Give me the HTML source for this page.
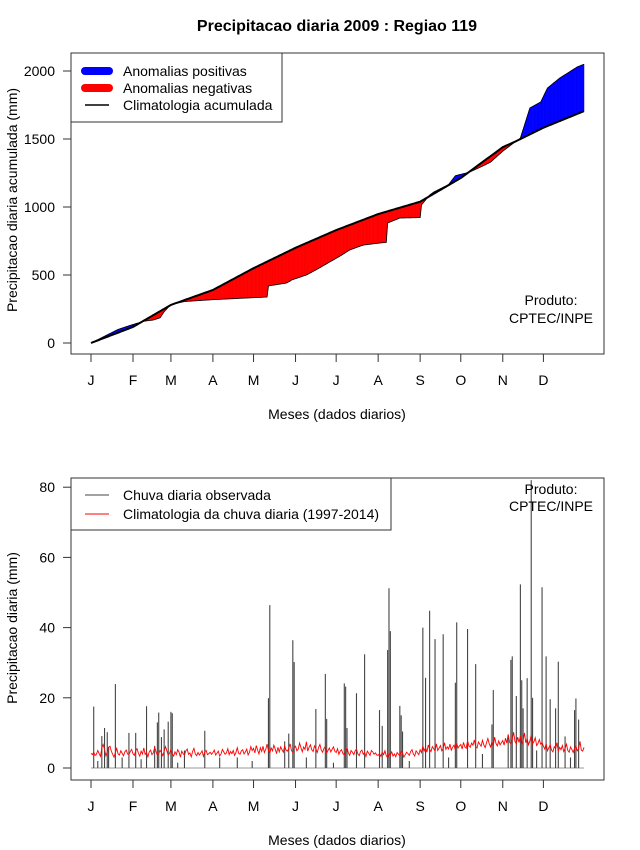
<!DOCTYPE html>
<html><head><meta charset="utf-8"><style>
body{margin:0;background:#fff}
svg{display:block;font-family:"Liberation Sans",sans-serif}
</style></head><body>
<svg id="chart" width="640" height="850" xmlns="http://www.w3.org/2000/svg">
<text x="337" y="31" text-anchor="middle" font-size="16" font-weight="bold">Precipitacao diaria 2009 : Regiao 119</text>
<g id="top"></g>
<g id="bot"></g>
</svg>
<script>
const monthLabels=["J","F","M","A","M","J","J","A","S","O","N","D"];
const monthStartDays=[1,32,60,91,121,152,182,213,244,274,305,335];
const topTicks=[0,500,1000,1500,2000];
const botTicks=[0,20,40,60,80];
// accumulated observed (knots: day, mm)
const obsDays=[1,10,21,30,40,47,52,55,58,61,70,90,110,131,132,145,148,149,160,167,178,185,192,202,214,219,220,229,244,245,251,254,265,270,280,290,296,305,314,318,325,333,338,347,360,365];
const obsCum=[0,45,100,130,160,169,185,230,262,285,305,318,328,338,420,440,455,463,500,537,600,640,684,720,735,740,882,919,922,1015,1088,1110,1165,1230,1255,1300,1330,1410,1478,1507,1728,1772,1875,1948,2030,2050];
// accumulated climatology (knots)
const climDays=[1,32,60,91,121,152,182,213,244,274,305,314,335,365];
const climCum=[0,118,280,390,550,700,830,948,1039,1213,1440,1480,1583,1705];
// daily observed rain (non-zero days)
const rainDays=[3,9,11,13,14,19,29,34,42,48,50,51,53,55,58,60,61,70,85,96,109,132,133,144,147,150,151,167,174,175,188,189,190,197,203,214,216,220,221,222,229,230,231,246,248,251,255,261,270,271,279,285,297,298,309,311,312,315,318,319,320,323,326,327,334,337,340,344,346,351,358,359,361,6,24,38,65,120,160,180,236,265,290,330,355];
const rainValues=[17.5,9.1,11.4,10.2,6,23.9,10,10,17.6,6.3,13,15.8,8.8,11,13.2,16,15.6,5,10.6,3,3,19.9,46.4,7.6,9.8,36.4,30.2,16.8,26.8,14,24.1,23.2,11.4,21.3,32.4,16.5,12,33.6,51.2,39,17.7,15,10.4,40,25.7,44.8,36.7,38.1,24.3,41.5,39.6,29.6,12.4,22.2,9,30.8,31.8,20.5,52.3,25,17,25.6,82,20,51.5,31.8,19.6,17,30.3,9,16.5,19.8,13.8,2,3,2.5,1.5,2,3,1.5,2,3,4,5,3];
// daily climatology 1997-2014
const climDaily=[4.2,3.8,4.5,3.6,3.9,5.0,4.1,3.3,5.8,6.7,5.2,3.5,4.6,5.9,6.2,4.8,3.9,3.1,4.4,5.6,4.0,3.7,4.9,4.2,3.5,4.6,5.1,4.0,3.8,4.7,5.3,
4.1,3.6,4.9,5.5,4.2,3.4,4.8,4.0,5.7,3.9,4.4,3.2,4.6,5.1,3.8,4.3,5.9,4.7,3.6,4.1,5.0,4.4,3.5,4.8,6.1,4.9,3.7,4.2,
5.3,4.0,3.4,4.6,3.8,5.2,4.5,3.1,4.8,4.1,3.6,4.9,5.4,3.9,4.3,3.2,4.7,5.6,4.0,3.5,4.4,3.7,4.2,4.9,3.3,4.6,5.0,3.8,4.1,4.5,3.9,
4.4,5.1,3.7,4.2,4.8,3.4,4.0,5.3,4.6,3.9,4.3,5.5,3.8,4.7,4.1,5.0,3.6,4.4,5.8,4.2,3.9,4.9,5.2,4.0,4.6,5.4,3.7,4.5,6.1,5.0,
5.6,4.3,6.4,5.1,4.0,5.8,4.7,6.2,4.4,5.3,6.8,5.0,4.2,5.7,4.9,6.5,5.4,4.1,5.9,4.6,6.0,5.2,4.5,6.3,5.1,4.8,5.6,6.9,5.0,4.4,5.7,
6.2,4.9,5.4,7.1,5.8,4.6,6.0,5.3,7.5,4.8,5.9,6.6,5.2,4.7,6.3,5.5,4.4,5.8,6.7,5.1,4.5,5.6,6.1,4.3,5.0,5.7,4.6,5.3,6.0,4.8,
4.4,5.5,3.9,4.8,5.2,4.1,3.7,4.6,5.8,4.3,3.6,5.0,4.5,3.8,4.9,5.4,4.0,3.5,4.7,5.1,3.9,4.4,3.3,4.8,4.2,3.6,5.0,4.6,3.9,4.3,3.7,
3.6,4.1,3.3,4.5,3.8,4.9,3.5,2.9,4.2,3.7,4.6,3.4,4.0,3.2,4.4,3.9,3.5,4.8,4.3,3.1,3.8,4.5,4.1,3.6,4.7,5.2,4.0,3.4,4.9,4.3,3.8,
5.2,4.4,6.3,4.9,5.8,4.5,6.6,5.3,4.7,6.1,5.5,4.8,6.9,5.0,5.7,6.4,4.9,5.6,7.2,5.3,6.0,5.4,6.8,5.1,5.9,6.5,5.2,7.0,5.7,6.3,
6.7,5.4,7.3,6.0,5.6,7.8,6.3,5.9,7.1,6.5,8.0,6.1,5.7,7.4,6.8,6.2,7.9,6.6,5.8,7.2,8.4,6.9,6.0,7.5,6.4,8.8,7.0,6.3,7.7,6.6,7.2,
7.8,6.5,8.5,7.1,9.6,7.4,6.8,8.2,10.2,7.6,6.9,8.8,7.3,9.1,6.7,7.9,10.0,7.2,8.4,6.6,7.7,9.3,6.9,7.5,8.6,6.4,7.0,8.1,6.8,7.3,
6.2,5.4,7.0,4.9,5.8,6.6,5.1,4.6,6.1,5.5,7.2,4.8,5.9,5.2,6.4,4.7,5.6,6.8,5.0,4.5,6.0,5.3,4.4,5.7,6.3,4.9,5.5,7.6,5.1,4.8,5.9];

const NS="http://www.w3.org/2000/svg";
function mk(parent,tag,attrs,text){const e=document.createElementNS(NS,tag);for(const k in attrs)e.setAttribute(k,attrs[k]);if(text!==undefined)e.textContent=text;parent.appendChild(e);return e;}
const xDay=d=>91+(d-1)*1.3545;
const yTop=v=>343-v*0.136;
const yBot=v=>768-v*3.51;
function interp(ds,vs,d){for(let i=0;i<ds.length-1;i++){if(d>=ds[i]&&d<=ds[i+1]){return vs[i]+(vs[i+1]-vs[i])*(d-ds[i])/(ds[i+1]-ds[i]);}}return vs[vs.length-1];}

function axes(g,top,bottom,ticks,yf,ylabel,yLabelY){
  const box=mk(g,'rect',{x:71,y:top,width:533,height:bottom-top,fill:'none',stroke:'#333','stroke-width':1});
  
  
  ticks.forEach(t=>{const y=yf(t);
    const l=mk(g,'line',{x1:63,x2:71,y1:y,y2:y,stroke:'#333'});
    
    
    const tx=mk(g,'text',{x:55,y:y+5,'text-anchor':'end','font-size':14},t);
    
    });
  monthStartDays.forEach((d,i)=>{const x=xDay(d);
    const l=mk(g,'line',{x1:x,x2:x,y1:bottom,y2:bottom+8,stroke:'#333'});
    
    
    const tx=mk(g,'text',{x:x,y:bottom+31,'text-anchor':'middle','font-size':14},monthLabels[i]);
    
    });
  const xt=mk(g,'text',{x:337,y:bottom+65,'text-anchor':'middle','font-size':14},'Meses (dados diarios)');
  
  
  const yt=mk(g,'text',{x:0,y:0,'text-anchor':'middle','font-size':14,transform:`translate(17,${yLabelY}) rotate(-90)`},ylabel);
  
  
}

// TOP
const gt=document.getElementById('top');
axes(gt,53,354,topTicks,yTop,'Precipitacao diaria acumulada (mm)',200);
const fills=mk(gt,'g',{});


let obsPts=[],clPts=[];
for(let d=1;d<=365;d++){obsPts.push(interp(obsDays,obsCum,d));clPts.push(interp(climDays,climCum,d));}
for(let i=0;i<364;i++){
  const d0=i+1,d1=i+2,a0=obsPts[i]-clPts[i],a1=obsPts[i+1]-clPts[i+1];
  const seg=(da,db,oa,ob,ca,cb,col)=>{const p=mk(fills,'polygon',{points:`${xDay(da)},${yTop(oa)} ${xDay(db)},${yTop(ob)} ${xDay(db)},${yTop(cb)} ${xDay(da)},${yTop(ca)}`,fill:col,stroke:col,'stroke-width':0.4});
    
    };
  if(a0*a1<0){const t=a0/(a0-a1);const dm=d0+t;const vm=obsPts[i]+(obsPts[i+1]-obsPts[i])*t;
    seg(d0,dm,obsPts[i],vm,clPts[i],vm,a0>0?'#0000ff':'#ff0000');
    seg(dm,d1,vm,obsPts[i+1],vm,clPts[i+1],a1>0?'#0000ff':'#ff0000');}
  else if(a0!==0||a1!==0){seg(d0,d1,obsPts[i],obsPts[i+1],clPts[i],clPts[i+1],(a0+a1)>0?'#0000ff':'#ff0000');}
}
const ol=mk(gt,'polyline',{points:obsPts.map((v,i)=>xDay(i+1)+','+yTop(v)).join(' '),fill:'none',stroke:'#000','stroke-width':0.8});


const cl=mk(gt,'polyline',{points:clPts.map((v,i)=>xDay(i+1)+','+yTop(v)).join(' '),fill:'none',stroke:'#000','stroke-width':2});


const lg=mk(gt,'g',{});


mk(lg,'rect',{x:71,y:53,width:211,height:69,fill:'#fff',stroke:'#333'});
mk(lg,'line',{x1:85,x2:109,y1:71,y2:71,stroke:'#0000ff','stroke-width':8,'stroke-linecap':'round'});
mk(lg,'line',{x1:85,x2:109,y1:88,y2:88,stroke:'#ff0000','stroke-width':8,'stroke-linecap':'round'});
mk(lg,'line',{x1:85,x2:109,y1:105,y2:105,stroke:'#000','stroke-width':1.5});
mk(lg,'text',{x:123,y:76,'font-size':14},'Anomalias positivas');
mk(lg,'text',{x:123,y:93,'font-size':14},'Anomalias negativas');
mk(lg,'text',{x:123,y:110,'font-size':14},'Climatologia acumulada');
const p1=mk(gt,'text',{x:551,y:305,'text-anchor':'middle','font-size':14},'Produto:');


mk(gt,'text',{x:551,y:323,'text-anchor':'middle','font-size':14},'CPTEC/INPE');

// BOTTOM
const gb=document.getElementById('bot');
axes(gb,478,780,botTicks,yBot,'Precipitacao diaria (mm)',628);
const base=mk(gb,'line',{x1:xDay(1),x2:xDay(365),y1:yBot(0),y2:yBot(0),stroke:'#999','stroke-width':1});


const bars=mk(gb,'g',{});


rainDays.forEach((d,i)=>{const x=xDay(d);
  const b=mk(bars,'line',{x1:x,x2:x,y1:yBot(0),y2:yBot(rainValues[i]),stroke:'#444','stroke-width':1.1});
  
  });
const rl=mk(gb,'polyline',{points:climDaily.map((v,i)=>xDay(i+1)+','+yBot(v)).join(' '),fill:'none',stroke:'#ff0000','stroke-width':0.9});


const lg2=mk(gb,'g',{});


mk(lg2,'rect',{x:71,y:478,width:320,height:52,fill:'#fff',stroke:'#333'});
mk(lg2,'line',{x1:85,x2:109,y1:495,y2:495,stroke:'#444','stroke-width':1});
mk(lg2,'line',{x1:85,x2:109,y1:514,y2:514,stroke:'#ff0000','stroke-width':1});
mk(lg2,'text',{x:123,y:500,'font-size':14},'Chuva diaria observada');
mk(lg2,'text',{x:123,y:519,'font-size':14},'Climatologia da chuva diaria (1997-2014)');
const p2=mk(gb,'text',{x:551,y:494,'text-anchor':'middle','font-size':14},'Produto:');


mk(gb,'text',{x:551,y:511,'text-anchor':'middle','font-size':14},'CPTEC/INPE');
</script>
</body></html>
